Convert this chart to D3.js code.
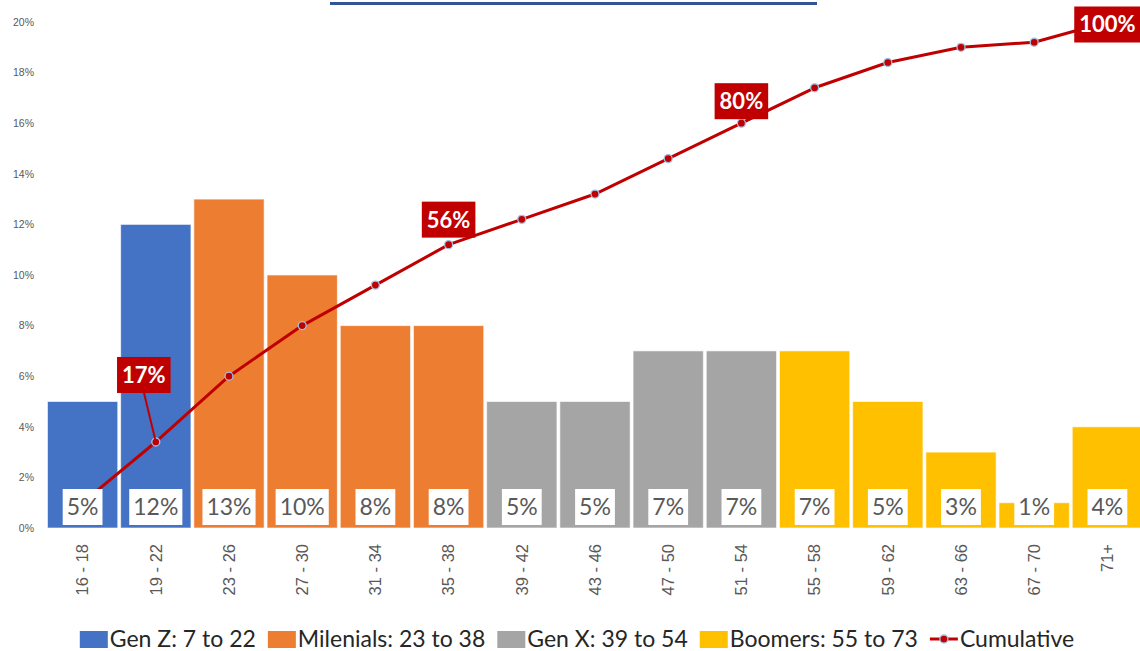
<!DOCTYPE html>
<html>
<head>
<meta charset="utf-8">
<script src="https://cdn.jsdelivr.net/npm/d3@7"></script>
<style>
  html, body { margin: 0; padding: 0; background: #fff; }
  svg { display: block; font-family: Lato, "Open Sans", sans-serif; }
</style>
</head>
<body>
<svg id="chart" width="1140" height="651"></svg>
<script>
// Age bands and share of respondents in each band
const ageBands = ["16 - 18", "19 - 22", "23 - 26", "27 - 30", "31 - 34", "35 - 38", "39 - 42",
                  "43 - 46", "47 - 50", "51 - 54", "55 - 58", "59 - 62", "63 - 66", "67 - 70", "71+"];
const shares = [0.05, 0.12, 0.13, 0.10, 0.08, 0.08, 0.05, 0.05, 0.07, 0.07, 0.07, 0.05, 0.03, 0.01, 0.04];
const generationOf = ["Gen Z", "Gen Z", "Milenials", "Milenials", "Milenials", "Milenials", "Gen X",
                      "Gen X", "Gen X", "Gen X", "Boomers", "Boomers", "Boomers", "Boomers", "Boomers"];
const cumulative = [0.05, 0.17, 0.30, 0.40, 0.48, 0.56, 0.61, 0.66, 0.73, 0.80, 0.87, 0.92, 0.95, 0.96, 1.00];

// Generations shown in the legend
const generations = ["Gen Z", "Milenials", "Gen X", "Boomers"];
const generationLabels = ["Gen Z: 7 to 22", "Milenials: 23 to 38", "Gen X: 39 to 54", "Boomers: 55 to 73"];
const cumulativeLabel = "Cumulative";

// Left axis ticks
const yTicks = [0, 0.02, 0.04, 0.06, 0.08, 0.10, 0.12, 0.14, 0.16, 0.18, 0.20];

// Bands whose cumulative value gets a callout
const calloutBands = ["19 - 22", "35 - 38", "51 - 54", "71+"];

const palette = { "Gen Z": "#4472C4", "Milenials": "#ED7D31", "Gen X": "#A5A5A5", "Boomers": "#FFC000" };
const lineColor = "#C00000";
const markerStroke = "#9DC3E6";
const textGray = "#595959";

const svg = d3.select("#chart");

const x = d3.scaleBand().domain(ageBands).range([46, 1144]).paddingInner(0.04).paddingOuter(0.02);
const y = d3.scaleLinear().domain([0, 0.20]).range([528, 22]);
// Cumulative share runs on a hidden 0–100% secondary axis
const y2 = d3.scaleLinear().domain([0, 1]).range([528, 22]);
const color = d3.scaleOrdinal().domain(generations).range(generations.map(g => palette[g]));
const pct = d3.format(".0%");

// Hyperlink underline of the heading above the plot
svg.append("rect").attr("x", 330).attr("y", 2).attr("width", 487).attr("height", 3).attr("fill", "#2F5597");

// Left axis (labels only)
const yAxis = svg.append("g").attr("transform", "translate(34,0)")
  .call(d3.axisLeft(y).tickValues(yTicks).tickFormat(pct).tickSize(0).tickPadding(0));
yAxis.select(".domain").remove();
yAxis.selectAll("text").attr("fill", textGray).attr("font-size", 10.5);

// Bottom axis (rotated band labels)
const xAxis = svg.append("g").attr("transform", "translate(0,528)")
  .call(d3.axisBottom(x).tickSize(0).tickPadding(0));
xAxis.select(".domain").remove();
xAxis.selectAll("text")
  .attr("fill", textGray).attr("font-size", 16.5)
  .attr("transform", "rotate(-90)")
  .attr("text-anchor", "end")
  .attr("dy", "0.35em")
  .attr("x", -16).attr("y", 0);

// Bars
svg.append("g").selectAll("rect").data(ageBands).join("rect")
  .attr("x", d => x(d))
  .attr("width", x.bandwidth())
  .attr("y", (d, i) => y(shares[i]))
  .attr("height", (d, i) => y(0) - y(shares[i]))
  .attr("fill", (d, i) => color(generationOf[i]))
  .attr("stroke", "#fff").attr("stroke-opacity", 0.6).attr("stroke-width", 1);

// Cumulative line and markers
const cx = d => x(d) + x.bandwidth() / 2;
const line = d3.line().x((d, i) => cx(ageBands[i])).y(d => y2(d));
svg.append("path").datum(cumulative)
  .attr("d", line).attr("fill", "none")
  .attr("stroke", lineColor).attr("stroke-width", 3).attr("stroke-linejoin", "round");
svg.append("g").selectAll("circle").data(cumulative).join("circle")
  .attr("cx", (d, i) => cx(ageBands[i])).attr("cy", d => y2(d)).attr("r", 4)
  .attr("fill", lineColor).attr("stroke", markerStroke).attr("stroke-width", 1.3);

// Value labels in white boxes at the foot of each bar
const valueLabels = svg.append("g");
ageBands.forEach((band, i) => {
  const g = valueLabels.append("g");
  const t = g.append("text")
    .attr("x", cx(band)).attr("y", 507).attr("dy", "0.36em")
    .attr("text-anchor", "middle").attr("font-size", 23).attr("fill", textGray)
    .text(pct(shares[i]));
  const w = t.node().getComputedTextLength() + 8;
  g.insert("rect", "text")
    .attr("x", cx(band) - w / 2).attr("y", 489).attr("width", w).attr("height", 36)
    .attr("fill", "#fff");
});

// Callouts on the cumulative line
const calloutOffset = { "19 - 22": [-12, -67], "35 - 38": [0, -25], "51 - 54": [0, -22], "71+": [0, 2.5] };
const callouts = svg.append("g");
calloutBands.forEach(band => {
  const i = ageBands.indexOf(band);
  const px = cx(band), py = y2(cumulative[i]);
  const [dx, dy] = calloutOffset[band];
  const bx = px + dx, by = py + dy;
  const g = callouts.append("g");
  if (Math.abs(dy) > 40) {
    g.append("line").attr("x1", bx).attr("y1", by + 17).attr("x2", px).attr("y2", py)
      .attr("stroke", lineColor).attr("stroke-width", 2);
  }
  const t = g.append("text")
    .attr("x", bx).attr("y", by).attr("dy", "0.36em")
    .attr("text-anchor", "middle").attr("font-size", 22).attr("font-weight", "bold")
    .attr("fill", "#fff").text(pct(cumulative[i]));
  const w = t.node().getComputedTextLength() + 10;
  g.insert("rect", "text")
    .attr("x", bx - w / 2).attr("y", by - 18).attr("width", w).attr("height", 36)
    .attr("fill", lineColor);
});

// Legend, laid out in one centred row
const legend = svg.append("g");
const items = generations.map((g, k) => ({ kind: "bar", key: g, label: generationLabels[k] }))
  .concat([{ kind: "line", key: "cum", label: cumulativeLabel }]);
let cursor = 0;
const legendY = 639;
items.forEach(it => {
  const g = legend.append("g").attr("transform", `translate(${cursor},0)`);
  if (it.kind === "bar") {
    g.append("rect").attr("x", 0).attr("y", legendY - 8).attr("width", 28).attr("height", 17)
      .attr("fill", color(it.key));
  } else {
    g.append("line").attr("x1", 0).attr("x2", 28).attr("y1", legendY).attr("y2", legendY)
      .attr("stroke", lineColor).attr("stroke-width", 3);
    g.append("circle").attr("cx", 14).attr("cy", legendY).attr("r", 4)
      .attr("fill", lineColor).attr("stroke", markerStroke).attr("stroke-width", 1.3);
  }
  const t = g.append("text").attr("x", 30).attr("y", legendY).attr("dy", "0.36em")
    .attr("font-size", 23).attr("fill", "#262626").text(it.label);
  cursor += 30 + t.node().getComputedTextLength() + 12;
});
const legendWidth = cursor - 12;
legend.attr("transform", `translate(${577 - legendWidth / 2},0)`);
</script>
</body>
</html>
